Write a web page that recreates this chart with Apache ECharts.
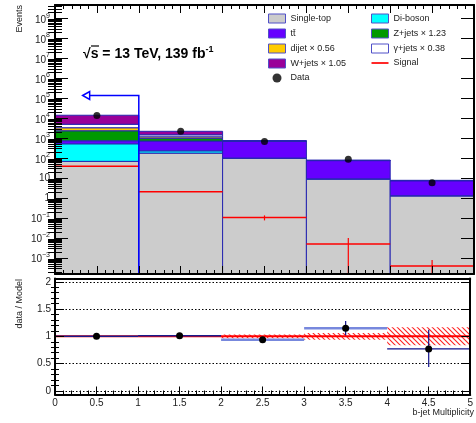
<!DOCTYPE html>
<html>
<head>
<meta charset="utf-8">
<script src="https://cdn.jsdelivr.net/npm/echarts@6/dist/echarts.min.js"></script>
<style>
  html, body { margin: 0; padding: 0; background: #fff; }
  #chart { width: 476px; height: 423px; }
</style>
</head>
<body>
<div id="chart"></div>
<script>
// bin edges of b-jet multiplicity
const binEdges = [0, 1, 2, 3, 4, 5];

// stacked backgrounds (events per bin)
const singleTop = [70, 181, 100, 9, 1.3];
const diboson = [460, 55, 3, 0.3, 0.03];
const ttbar = [220, 490, 610, 67, 6.2];
const zjets = [1640, 275, 8, 1, 0.1];
const dijet = [990, 190, 2, 0.2, 0.02];
const gammajets = [1680, 310, 4, 0.5, 0.05];
const wjets = [9250, 740, 6, 1, 0.1];

const dataEvents = [14000, 2250, 700, 90, 6];
const signal = [40, 2.1, 0.107, 0.005, 0.0004];
const signalErr = [0.5, 0.05, 0.03, 0.005, 0.0004];

// lower panel
const ratioData = [1.0, 1.01, 0.94, 1.15, 0.77];
const ratioErrUp = [0.01, 0.02, 0.03, 0.13, 0.35];
const ratioErrDown = [0.01, 0.02, 0.03, 0.13, 0.33];
const modelErr = [0.004, 0.008, 0.035, 0.06, 0.165];

// cut arrow
const cutValue = 1;
const cutArrowEnd = 0.33;
const cutArrowHeight = 1.4e5;

// tick positions
const logDecades = [-3, -2, -1, 0, 1, 2, 3, 4, 5, 6, 7, 8, 9];
const ratioTicks = [0, 0.5, 1, 1.5, 2];

const Y_MIN = -3.8, Y_MAX = 9.68;
const R_MIN = -0.065, R_MAX = 2.06;
const lg = v => Math.log10(v);
const FONT = 'Liberation Sans, Arial, sans-serif';

const logMinor = [];
for (let n = -4; n <= 9; n++) {
    for (let k = 2; k <= 9; k++) {
        const v = n + lg(k);
        if (v > Y_MIN && v < Y_MAX) logMinor.push(v);
    }
}
const ratioMinor = [];
for (let i = 1; i < 20; i++) {
    if (i % 5 !== 0) ratioMinor.push(i / 10);
}

// red hatch for model uncertainty
const hatch = document.createElement('canvas');
hatch.width = 5;
hatch.height = 5;
const hc = hatch.getContext('2d');
hc.strokeStyle = '#ff2020';
hc.lineWidth = 1.1;
hc.beginPath();
hc.moveTo(-1, -1); hc.lineTo(6, 6);
hc.moveTo(-3.5, 1.5); hc.lineTo(3.5, 8.5);
hc.moveTo(1.5, -3.5); hc.lineTo(8.5, 3.5);
hc.stroke();

const components = [
    {name: 'Single-top', values: singleTop, color: '#cccccc'},
    {name: 'Di-boson', values: diboson, color: '#00ffff'},
    {name: 'tt\u0304', values: ttbar, color: '#6600ff'},
    {name: 'Z+jets × 1.23', values: zjets, color: '#009900'},
    {name: 'dijet × 0.56', values: dijet, color: '#ffcc00'},
    {name: 'γ+jets × 0.38', values: gammajets, color: '#ffffff'},
    {name: 'W+jets × 1.05', values: wjets, color: '#990099'}
];
const EDGE = '#2626b0';

const cum = [0, 0, 0, 0, 0];
const stackSeries = components.map((c, ci) => {
    const rows = c.values.map((v, i) => {
        const lo = ci === 0 ? Y_MIN : lg(cum[i]);
        cum[i] += v;
        return [binEdges[i], binEdges[i + 1], lo, lg(cum[i])];
    });
    return {
        name: c.name,
        type: 'custom',
        xAxisIndex: 0,
        yAxisIndex: 0,
        clip: true,
        z: 2,
        itemStyle: {color: c.color, borderColor: EDGE, borderWidth: 1},
        encode: {x: [0, 1], y: [2, 3]},
        data: rows,
        renderItem: function (params, api) {
            const a = api.coord([api.value(0), api.value(3)]);
            const b = api.coord([api.value(1), api.value(2)]);
            return {
                type: 'rect',
                shape: {x: a[0], y: a[1], width: b[0] - a[0], height: b[1] - a[1]},
                style: {fill: c.color, stroke: EDGE, lineWidth: 1}
            };
        }
    };
});

const mid = i => (binEdges[i] + binEdges[i + 1]) / 2;

const signalSeries = {
    name: 'Signal',
    type: 'custom',
    xAxisIndex: 0,
    yAxisIndex: 0,
    clip: true,
    z: 4,
    itemStyle: {color: '#ff0000'},
    encode: {x: [0, 1], y: [2]},
    data: signal.map((v, i) => [binEdges[i], binEdges[i + 1], lg(v),
        v - signalErr[i] > 0 ? lg(v - signalErr[i]) : Y_MIN, lg(v + signalErr[i])]),
    renderItem: function (params, api) {
        const x0 = api.value(0), x1 = api.value(1), xm = (x0 + x1) / 2;
        const a = api.coord([x0, api.value(2)]);
        const b = api.coord([x1, api.value(2)]);
        const lo = api.coord([xm, api.value(3)]);
        const hi = api.coord([xm, api.value(4)]);
        return {
            type: 'group',
            children: [
                {type: 'line', shape: {x1: a[0], y1: a[1], x2: b[0], y2: b[1]}, style: {stroke: '#ff0000', lineWidth: 1.5}},
                {type: 'line', shape: {x1: lo[0], y1: lo[1], x2: hi[0], y2: hi[1]}, style: {stroke: '#ff0000', lineWidth: 1.2}}
            ]
        };
    }
};

const arrowSeries = {
    type: 'custom',
    xAxisIndex: 0,
    yAxisIndex: 0,
    clip: true,
    z: 6,
    silent: true,
    encode: {x: [0, 3], y: [1, 2]},
    data: [[cutValue, Y_MIN, lg(cutArrowHeight), cutArrowEnd]],
    renderItem: function (params, api) {
        const base = api.coord([api.value(0), api.value(1)]);
        const corner = api.coord([api.value(0), api.value(2)]);
        const tip = api.coord([api.value(3), api.value(2)]);
        const s = 7;
        return {
            type: 'group',
            children: [
                {type: 'polyline', shape: {points: [base, corner, [tip[0] + s, tip[1]]]}, style: {stroke: '#0000ff', lineWidth: 1.5, fill: null}},
                {type: 'polygon', shape: {points: [tip, [tip[0] + s, tip[1] - 4], [tip[0] + s, tip[1] + 4]]}, style: {stroke: '#0000ff', lineWidth: 1.5, fill: '#fff'}}
            ]
        };
    }
};

const dataSeries = {
    name: 'Data',
    type: 'scatter',
    xAxisIndex: 0,
    yAxisIndex: 0,
    symbolSize: 7,
    z: 7,
    itemStyle: {color: '#000'},
    data: dataEvents.map((v, i) => [mid(i), lg(v)])
};

const bandSeries = {
    type: 'custom',
    xAxisIndex: 2,
    yAxisIndex: 4,
    clip: true,
    z: 2,
    silent: true,
    encode: {x: [0, 1], y: [2, 3]},
    data: modelErr.map((e, i) => [binEdges[i], binEdges[i + 1], 1 - e, 1 + e, 1]),
    renderItem: function (params, api) {
        const a = api.coord([api.value(0), api.value(3)]);
        const b = api.coord([api.value(1), api.value(2)]);
        const c0 = api.coord([api.value(0), api.value(4)]);
        const c1 = api.coord([api.value(1), api.value(4)]);
        return {
            type: 'group',
            children: [
                {type: 'rect', shape: {x: a[0], y: a[1], width: b[0] - a[0], height: b[1] - a[1]},
                    style: {fill: {image: hatch, repeat: 'repeat'}}},
                {type: 'line', shape: {x1: c0[0], y1: c0[1], x2: c1[0], y2: c1[1]}, style: {stroke: '#ff0000', lineWidth: 2}}
            ]
        };
    }
};

// colours of the horizontal bars of data/model
const ratioBarColors = ['#1a1a8a', '#1a1a8a', '#7788dd', '#7788dd', '#10108a'];
const ratioBarWidths = [1.5, 1.5, 2.5, 2.5, 1.2];

const ratioSeries = {
    type: 'custom',
    xAxisIndex: 2,
    yAxisIndex: 4,
    clip: true,
    z: 5,
    silent: true,
    encode: {x: [0, 1], y: [2]},
    data: ratioData.map((r, i) => [binEdges[i], binEdges[i + 1], r, r - ratioErrDown[i], r + ratioErrUp[i], i]),
    renderItem: function (params, api) {
        const x0 = api.value(0), x1 = api.value(1), xm = (x0 + x1) / 2;
        const k = api.value(5);
        const a = api.coord([x0, api.value(2)]);
        const b = api.coord([x1, api.value(2)]);
        const lo = api.coord([xm, api.value(3)]);
        const hi = api.coord([xm, api.value(4)]);
        const m = api.coord([xm, api.value(2)]);
        return {
            type: 'group',
            children: [
                {type: 'line', shape: {x1: a[0], y1: a[1], x2: b[0], y2: b[1]}, style: {stroke: ratioBarColors[k], lineWidth: ratioBarWidths[k]}},
                {type: 'line', shape: {x1: lo[0], y1: lo[1], x2: hi[0], y2: hi[1]}, style: {stroke: '#10108a', lineWidth: 1.2}},
                {type: 'circle', shape: {cx: m[0], cy: m[1], r: 3.5}, style: {fill: '#000'}}
            ]
        };
    }
};

const chart = echarts.init(document.getElementById('chart'), null, {renderer: 'canvas'});

const frameLine = {show: true, onZero: false, lineStyle: {color: '#000', width: 2}};
const noLine = {show: false};
const tickStyle = {color: '#000', width: 1};

function xAx(grid, position, opts) {
    return Object.assign({
        type: 'value', gridIndex: grid, position: position, min: 0, max: 5, interval: 0.5, z: 10,
        axisLine: frameLine,
        axisTick: {show: true, inside: true, length: 8, lineStyle: tickStyle},
        minorTick: {show: true, splitNumber: 5, length: 4, lineStyle: tickStyle},
        axisLabel: {show: false},
        splitLine: {show: false}
    }, opts || {});
}

function yAx(grid, position, min, max, ticks, len, opts) {
    return Object.assign({
        type: 'value', gridIndex: grid, position: position, min: min, max: max, z: 10,
        axisLine: noLine,
        axisTick: {show: true, inside: true, length: len, customValues: ticks, lineStyle: tickStyle},
        axisLabel: {show: false},
        splitLine: {show: false}
    }, opts || {});
}

const logLabel = {
    show: true,
    customValues: logDecades,
    margin: 5,
    fontFamily: FONT,
    color: '#222',
    formatter: function (v) {
        const n = Math.round(v);
        if (n === 0) return '{b|1}';
        if (n === 1) return '{b|10}';
        return '{b|10}{s|' + (n < 0 ? '\u2212' + (-n) : n) + '}';
    },
    rich: {
        b: {fontSize: 10, fontFamily: FONT, color: '#222', verticalAlign: 'bottom'},
        s: {fontSize: 7, fontFamily: FONT, color: '#222', verticalAlign: 'top', padding: [0, 0, 6, 0]}
    }
};

const option = {
    animation: false,
    backgroundColor: '#fff',
    textStyle: {fontFamily: FONT},
    grid: [
        {left: 55, right: 2, top: 5, height: 269},
        {left: 55, right: 2, top: 278.5, height: 116}
    ],
    xAxis: [
        xAx(0, 'bottom'),
        xAx(0, 'top'),
        xAx(1, 'bottom', {
            axisLabel: {show: true, fontSize: 10, color: '#222', margin: 4, fontFamily: FONT}
        }),
        xAx(1, 'top', {axisTick: {show: false}, minorTick: {show: false}})
    ],
    yAxis: [
        yAx(0, 'left', Y_MIN, Y_MAX, logDecades, 13, {axisLine: frameLine, axisLabel: logLabel}),
        yAx(0, 'left', Y_MIN, Y_MAX, logMinor, 7),
        yAx(0, 'right', Y_MIN, Y_MAX, logDecades, 13, {axisLine: frameLine}),
        yAx(0, 'right', Y_MIN, Y_MAX, logMinor, 7),
        yAx(1, 'left', R_MIN, R_MAX, ratioTicks, 9, {
            axisLine: frameLine,
            axisLabel: {show: true, customValues: ratioTicks, fontSize: 10, color: '#222', margin: 4, fontFamily: FONT}
        }),
        yAx(1, 'left', R_MIN, R_MAX, ratioMinor, 4),
        yAx(1, 'right', R_MIN, R_MAX, ratioTicks, 9, {axisLine: frameLine}),
        yAx(1, 'right', R_MIN, R_MAX, ratioMinor, 4),
        yAx(1, 'left', R_MIN, R_MAX, ratioTicks, 0, {
            z: 0,
            axisTick: {show: false, customValues: ratioTicks},
            splitLine: {show: true, lineStyle: {color: '#000', width: 1, type: [1.5, 2]}}
        })
    ],
    legend: [
        {
            left: 268, top: 13.5, orient: 'vertical', padding: 0, selectedMode: false,
            itemWidth: 17, itemHeight: 9, itemGap: 5, icon: 'rect',
            textStyle: {fontSize: 9, color: '#222', lineHeight: 9, fontFamily: FONT},
            itemStyle: {borderColor: '#5050c8', borderWidth: 1},
            data: ['Single-top', 'tt\u0304', 'dijet × 0.56', 'W+jets × 1.05',
                {name: 'Data', icon: 'circle', itemStyle: {borderWidth: 0, color: '#000'}}]
        },
        {
            left: 371, top: 13.5, orient: 'vertical', padding: 0, selectedMode: false,
            itemWidth: 17, itemHeight: 9, itemGap: 5, icon: 'rect',
            textStyle: {fontSize: 9, color: '#222', lineHeight: 9, fontFamily: FONT},
            itemStyle: {borderColor: '#5050c8', borderWidth: 1},
            data: ['Di-boson', 'Z+jets × 1.23', 'γ+jets × 0.38',
                {name: 'Signal', icon: 'path://M0,0 M0,10 M0,4 L20,4 L20,6 L0,6 Z', itemStyle: {borderWidth: 0, color: '#ff0000'}}]
        }
    ],
    graphic: [
        {
            type: 'text', x: 20, y: 5, rotation: Math.PI / 2,
            style: {text: 'Events', fontSize: 9, fill: '#222', align: 'right', verticalAlign: 'middle', fontFamily: FONT}
        },
        {
            type: 'text', x: 20, y: 279, rotation: Math.PI / 2,
            style: {text: 'data / Model', fontSize: 9, fill: '#222', align: 'right', verticalAlign: 'middle', fontFamily: FONT}
        },
        {
            type: 'text', x: 474, y: 413,
            style: {text: 'b-jet Multiplicity', fontSize: 9, fill: '#222', align: 'right', verticalAlign: 'middle', fontFamily: FONT}
        },
        {
            type: 'text', x: 83, y: 53, z: 20,
            style: {
                text: '{m|√s = 13 TeV, 139 fb}{s|-1}',
                verticalAlign: 'middle',
                rich: {
                    m: {fontSize: 14, fontWeight: 'bold', fill: '#000', fontFamily: FONT, verticalAlign: 'bottom'},
                    s: {fontSize: 9, fontWeight: 'bold', fill: '#000', fontFamily: FONT, verticalAlign: 'top', padding: [0, 0, 7, 0]}
                }
            }
        },
        {
            type: 'line', z: 20,
            shape: {x1: 91, y1: 46, x2: 99, y2: 46},
            style: {stroke: '#000', lineWidth: 1.2}
        }
    ],
    series: stackSeries.concat([signalSeries, arrowSeries, dataSeries, bandSeries, ratioSeries])
};

chart.setOption(option);
window.onresize = function () {
    chart.resize();
};
</script>
</body>
</html>
